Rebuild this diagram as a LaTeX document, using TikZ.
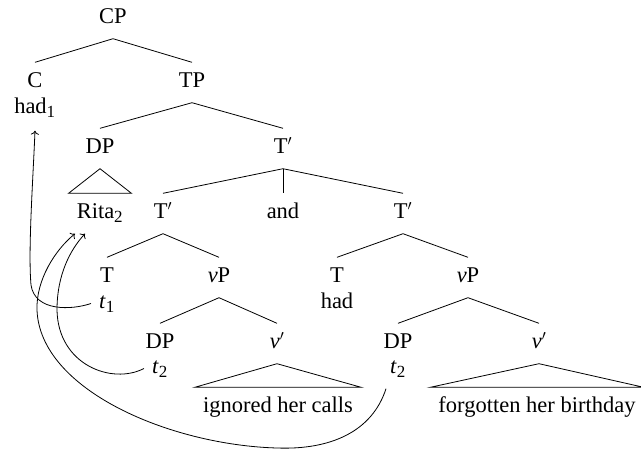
\documentclass[tikz,border=0pt]{standalone}
\usepackage{fontspec}
\setmainfont{Liberation Serif}
\usetikzlibrary{arrows.meta}
\begin{document}
\begin{tikzpicture}[x=1pt,y=-1pt,
  lab/.style={anchor=base, font=\fontsize{22.5}{27}\selectfont, text height=12pt, text depth=3pt, inner xsep=8pt, inner ysep=12.5pt},
  br/.style={line width=0.8pt},
  mv/.style={line width=0.8pt, -{To[length=4pt,width=8pt]}}]
\useasboundingbox (0,0) rectangle (641,451);
% labels
\node[lab] (CP) at (113,23) {CP};
\node[lab] (C) at (35,87) {C};
\node[lab] (had1) at (35,113) {had\textsubscript{\fontsize{17}{17}\selectfont 1}};
\node[lab] (TP) at (192,87) {TP};
\node[lab] (DP0) at (100,153) {DP};
\node[lab] (Tb0) at (283,153) {T$'$};
\node[lab] (Rita) at (100,218) {Rita\textsubscript{\fontsize{17}{17}\selectfont 2}};
\node[lab] (Tb1) at (163,218) {T$'$};
\node[lab] (and) at (283,218) {and};
\node[lab] (Tb2) at (403,218) {T$'$};
\node[lab] (T1) at (107,282) {T};
\node[lab] (t1) at (107,308) {\textit{t}\textsubscript{\fontsize{17}{17}\selectfont 1}};
\node[lab] (vP1) at (219,282) {\textit{v}P};
\node[lab] (T2) at (337,282) {T};
\node[lab] (had2) at (337,308) {had};
\node[lab] (vP2) at (468,282) {\textit{v}P};
\node[lab] (DP1) at (160,348) {DP};
\node[lab] (t21) at (160,373) {\textit{t}\textsubscript{\fontsize{17}{17}\selectfont 2}};
\node[lab] (vb1) at (277,348) {\textit{v}$'$};
\node[lab] (DP2) at (398,348) {DP};
\node[lab] (t22) at (398,373) {\textit{t}\textsubscript{\fontsize{17}{17}\selectfont 2}};
\node[lab] (vb2) at (539,348) {\textit{v}$'$};
\node[lab] (ign) at (278,412) {ignored her calls};
\node[lab] (forg) at (537,412) {forgotten her birthday};
% branches
\draw[br] (C.north) -- (CP.south) -- (TP.north);
\draw[br] (DP0.north) -- (TP.south) -- (Tb0.north);
\draw[br] (Tb1.north) -- (Tb0.south) -- (Tb2.north);
\draw[br] (Tb0.south) -- (and.north);
\draw[br] (T1.north) -- (Tb1.south) -- (vP1.north);
\draw[br] (DP1.north) -- (vP1.south) -- (vb1.north);
\draw[br] (T2.north) -- (Tb2.south) -- (vP2.north);
\draw[br] (DP2.north) -- (vP2.south) -- (vb2.north);
% triangles
\draw[br] (DP0.south) -- (Rita.north west) -- (Rita.north east) -- cycle;
\draw[br] (vb1.south) -- (ign.north west) -- (ign.north east) -- cycle;
\draw[br] (vb2.south) -- (forg.north west) -- (forg.north east) -- cycle;
% movement arrows
\draw[mv] (t1.west) .. controls (72,310) and (35,312) .. (31,285)
  .. controls (28,250) and (33,180) .. ([yshift=-2pt]had1.south);
\draw[mv] (t21.west) .. controls (112,385) and (58,365) .. (57,310)
  .. controls (57,275) and (70,250) .. ([xshift=-15pt]Rita.south);
\draw[mv] ([xshift=-12pt]t22.south) .. controls (372,432) and (330,450) .. (277,448)
  .. controls (170,445) and (40,390) .. (37,310)
  .. controls (36,280) and (55,250) .. ([xshift=-25pt]Rita.south);
\end{tikzpicture}
\end{document}
